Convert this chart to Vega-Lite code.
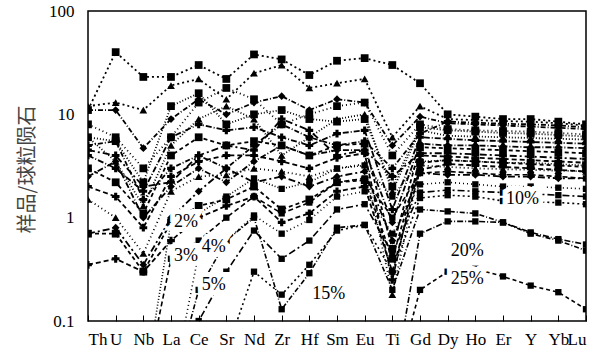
{
  "$schema": "https://vega.github.io/schema/vega-lite/v6.json",
  "width": 498,
  "height": 310,
  "autosize": {"type": "none"},
  "padding": {"left": 88, "top": 11, "right": 14, "bottom": 29},
  "config": {"view": {"stroke": "#000", "strokeWidth": 1.5}},
  "datasets": {
    "curves": [
      {"s": "S1", "k": "s", "Th": 11, "U": 40, "Nb": 23, "La": 23, "Ce": 30, "Sr": 22, "Nd": 38, "Zr": 34, "Hf": 24, "Sm": 33, "Eu": 35, "Ti": 30, "Gd": 20, "Dy": 10, "Ho": 9.5, "Er": 9, "Y": 9, "Yb": 8.5, "Lu": 8},
      {"s": "S2", "k": "s", "Th": 12, "U": 13, "Nb": 11, "La": 19, "Ce": 22, "Sr": 14, "Nd": 25, "Zr": 30, "Hf": 18, "Sm": 20, "Eu": 22, "Ti": 6, "Gd": 12, "Dy": 9, "Ho": 8.8, "Er": 8.6, "Y": 8.5, "Yb": 8.2, "Lu": 7.8},
      {"s": "S3", "k": "s", "Th": 11, "U": 11, "Nb": 4.7, "La": 9, "Ce": 14, "Sr": 10, "Nd": 13, "Zr": 15, "Hf": 11, "Sm": 14, "Eu": 13, "Ti": 5, "Gd": 9.5, "Dy": 8.2, "Ho": 8, "Er": 7.8, "Y": 7.6, "Yb": 7.4, "Lu": 7.2},
      {"s": "S4", "k": "s", "Th": 6, "U": 5.5, "Nb": 2.2, "La": 12, "Ce": 16, "Sr": 8, "Nd": 10, "Zr": 11, "Hf": 9, "Sm": 8.5, "Eu": 9, "Ti": 2, "Gd": 7.5, "Dy": 7, "Ho": 6.8, "Er": 6.6, "Y": 6.5, "Yb": 6.3, "Lu": 6.1},
      {"s": "S5", "k": "s", "Th": 4, "U": 3, "Nb": 1.8, "La": 6, "Ce": 8, "Sr": 7, "Nd": 7.5, "Zr": 6, "Hf": 5, "Sm": 6.5, "Eu": 7, "Ti": 1.2, "Gd": 6, "Dy": 5.8, "Ho": 5.6, "Er": 5.5, "Y": 5.4, "Yb": 5.3, "Lu": 5.2},
      {"s": "S6", "k": "s", "Th": 3, "U": 2.2, "Nb": 1.1, "La": 4, "Ce": 6, "Sr": 5, "Nd": 5.5, "Zr": 5, "Hf": 4, "Sm": 5, "Eu": 5.2, "Ti": 0.5, "Gd": 4.8, "Dy": 4.7, "Ho": 4.6, "Er": 4.5, "Y": 4.4, "Yb": 4.3, "Lu": 4.2},
      {"s": "S7", "k": "s", "Th": 2, "U": 1.6, "Nb": 0.8, "La": 2.5, "Ce": 3.5, "Sr": 4, "Nd": 4, "Zr": 3.5, "Hf": 3, "Sm": 3.8, "Eu": 4.2, "Ti": 0.25, "Gd": 4, "Dy": 3.9, "Ho": 3.8, "Er": 3.7, "Y": 3.6, "Yb": 3.5, "Lu": 3.4},
      {"s": "S8", "k": "s", "Th": 1.5, "U": 1, "Nb": 0.45, "La": 1.8, "Ce": 2.5, "Sr": 2.6, "Nd": 3, "Zr": 2.8, "Hf": 2.5, "Sm": 3, "Eu": 3.3, "Ti": 0.18, "Gd": 3.2, "Dy": 3.1, "Ho": 3, "Er": 2.95, "Y": 2.9, "Yb": 2.85, "Lu": 2.8},
      {"s": "S9", "k": "s", "Th": 0.7, "U": 0.8, "Nb": 0.35, "La": 1, "Ce": 1.8, "Sr": 3, "Nd": 2.2, "Zr": 2.5, "Hf": 2, "Sm": 2.5, "Eu": 2.8, "Ti": 0.6, "Gd": 2.7, "Dy": 2.6, "Ho": 2.6, "Er": 2.5, "Y": 2.5, "Yb": 2.4, "Lu": 2.4},
      {"s": "S10", "k": "s", "Th": 5, "U": 5.5, "Nb": 1.5, "La": 3, "Ce": 4, "Sr": 3, "Nd": 5, "Zr": 8, "Hf": 6, "Sm": 5, "Eu": 5.5, "Ti": 3, "Gd": 6.5, "Dy": 8.5, "Ho": 8.3, "Er": 8.1, "Y": 8, "Yb": 7.8, "Lu": 7.5},
      {"s": "S11", "k": "s", "Th": 6, "U": 3.5, "Nb": 1.3, "La": 5, "Ce": 9, "Sr": 12, "Nd": 9, "Zr": 4, "Hf": 6, "Sm": 9, "Eu": 10, "Ti": 1.8, "Gd": 7, "Dy": 6.2, "Ho": 6.1, "Er": 6, "Y": 5.9, "Yb": 5.8, "Lu": 5.7},
      {"s": "S12", "k": "s", "Th": 2.5, "U": 3.5, "Nb": 1.0, "La": 2, "Ce": 3, "Sr": 2.2, "Nd": 3.5, "Zr": 5, "Hf": 4, "Sm": 4.5, "Eu": 4.5, "Ti": 0.9, "Gd": 5.2, "Dy": 5, "Ho": 5, "Er": 4.9, "Y": 4.8, "Yb": 4.8, "Lu": 4.7},
      {"s": "S13", "k": "s", "Th": 0.7, "U": 0.7, "Nb": 0.3, "La": 0.9, "Ce": 1.3, "Sr": 1.5, "Nd": 2, "Zr": 1.2, "Hf": 1.5, "Sm": 2.2, "Eu": 2.3, "Ti": 0.4, "Gd": 3.4, "Dy": 3.6, "Ho": 3.5, "Er": 3.4, "Y": 3.3, "Yb": 3.2, "Lu": 3.1},
      {"s": "S14", "k": "s", "Th": 0.35, "U": 0.4, "Nb": 0.3, "La": 0.6, "Ce": 1.0, "Sr": 1.3, "Nd": 1.6, "Zr": 0.9, "Hf": 1.1, "Sm": 1.8, "Eu": 2, "Ti": 0.3, "Gd": 2.9, "Dy": 3.3, "Ho": 3.2, "Er": 3.1, "Y": 3.0, "Yb": 2.9, "Lu": 2.8},
      {"s": "S15", "k": "s", "Th": 8, "U": 6, "Nb": 3, "La": 6, "Ce": 13, "Sr": 18, "Nd": 14, "Zr": 8, "Hf": 10, "Sm": 12, "Eu": 13, "Ti": 4, "Gd": 8, "Dy": 7.2, "Ho": 7, "Er": 6.9, "Y": 6.8, "Yb": 6.6, "Lu": 6.4},
      {"s": "S16", "k": "s", "Th": 4.5, "U": 4, "Nb": 2, "La": 2.2, "Ce": 4, "Sr": 5, "Nd": 4.5, "Zr": 9, "Hf": 7, "Sm": 4, "Eu": 4.5, "Ti": 2.5, "Gd": 4.2, "Dy": 4.2, "Ho": 4.1, "Er": 4, "Y": 3.9, "Yb": 3.8, "Lu": 3.7},
      {"s": "M2", "k": "m", "Th": 0.02, "U": 0.02, "Nb": 0.02, "La": 0.9, "Ce": 1.1, "Sr": 1.6, "Nd": 2.4, "Zr": 1.9, "Hf": 2.2, "Sm": 3.0, "Eu": 3.2, "Ti": 1.6, "Gd": 3.5, "Dy": 3.6, "Ho": 3.5, "Er": 3.4, "Y": 3.4, "Yb": 3.3, "Lu": 3.2},
      {"s": "M3", "k": "m", "Th": 0.02, "U": 0.02, "Nb": 0.02, "La": 0.4, "Ce": 0.6, "Sr": 1.0, "Nd": 1.6, "Zr": 1.1, "Hf": 1.4, "Sm": 2.2, "Eu": 2.4, "Ti": 1.0, "Gd": 2.7, "Dy": 2.8, "Ho": 2.7, "Er": 2.6, "Y": 2.6, "Yb": 2.5, "Lu": 2.4},
      {"s": "M4", "k": "m", "Th": 0.02, "U": 0.02, "Nb": 0.02, "La": 0.02, "Ce": 0.45, "Sr": 0.6, "Nd": 1.05, "Zr": 0.7, "Hf": 0.95, "Sm": 1.6, "Eu": 1.8, "Ti": 0.7, "Gd": 2.1, "Dy": 2.2, "Ho": 2.1, "Er": 2.0, "Y": 2.0, "Yb": 1.95, "Lu": 1.9},
      {"s": "M5", "k": "m", "Th": 0.02, "U": 0.02, "Nb": 0.02, "La": 0.02, "Ce": 0.1, "Sr": 0.3, "Nd": 0.75, "Zr": 0.4, "Hf": 0.6, "Sm": 1.2, "Eu": 1.35, "Ti": 0.45, "Gd": 1.75, "Dy": 1.85, "Ho": 1.8, "Er": 1.75, "Y": 1.7, "Yb": 1.65, "Lu": 1.6},
      {"s": "M10", "k": "m", "Th": 0.02, "U": 0.02, "Nb": 0.02, "La": 0.02, "Ce": 0.02, "Sr": 0.05, "Nd": 0.3, "Zr": 0.18, "Hf": 0.35, "Sm": 0.75, "Eu": 0.85, "Ti": 0.3, "Gd": 1.55, "Dy": 1.65, "Ho": 1.6, "Er": 1.45, "Y": 1.42, "Yb": 1.4, "Lu": 1.35},
      {"s": "M15", "k": "m", "Th": 0.02, "U": 0.02, "Nb": 0.02, "La": 0.02, "Ce": 0.2, "Sr": 0.6, "Nd": 1.0, "Zr": 0.13, "Hf": 0.29, "Sm": 0.8, "Eu": 0.85, "Ti": 0.2, "Gd": 1.2, "Dy": 1.15, "Ho": 1.1, "Er": 0.9, "Y": 0.7, "Yb": 0.6, "Lu": 0.48},
      {"s": "M20", "k": "m", "Th": 0.02, "U": 0.02, "Nb": 0.02, "La": 0.02, "Ce": 0.02, "Sr": 0.02, "Nd": 0.02, "Zr": 0.02, "Hf": 0.02, "Sm": 0.02, "Eu": 0.02, "Ti": 0.02, "Gd": 0.7, "Dy": 0.92, "Ho": 0.92, "Er": 0.9, "Y": 0.72, "Yb": 0.62, "Lu": 0.55},
      {"s": "M25", "k": "m", "Th": 0.02, "U": 0.02, "Nb": 0.02, "La": 0.02, "Ce": 0.02, "Sr": 0.02, "Nd": 0.02, "Zr": 0.02, "Hf": 0.02, "Sm": 0.02, "Eu": 0.02, "Ti": 0.02, "Gd": 0.2, "Dy": 0.3, "Ho": 0.32, "Er": 0.27, "Y": 0.22, "Yb": 0.19, "Lu": 0.13}
    ],
    "labels": [
      {"t": "2%", "el": "La", "v": 0.91},
      {"t": "3%", "el": "La", "v": 0.43},
      {"t": "4%", "el": "Ce", "v": 0.52},
      {"t": "5%", "el": "Ce", "v": 0.224},
      {"t": "15%", "el": "Hf", "v": 0.183},
      {"t": "10%", "el": "Er", "v": 1.53},
      {"t": "20%", "el": "Dy", "v": 0.478},
      {"t": "25%", "el": "Dy", "v": 0.256}
    ]
  },
  "encoding": {
    "x": {
      "field": "el", "type": "nominal",
      "scale": {"type": "point", "padding": 0, "domain": ["Th","U","Nb","La","Ce","Sr","Nd","Zr","Hf","Sm","Eu","Ti","Gd","Dy","Ho","Er","Y","Yb","Lu"]},
      "axis": {"title": null, "labelAngle": 0, "labelFont": "Liberation Serif", "labelFontWeight": "normal", "labelFontSize": 17, "labelColor": "#000", "labelFlush": true, "domain": false, "tickColor": "#000", "tickSize": -6, "labelPadding": 16, "grid": false}
    },
    "y": {
      "field": "v", "type": "quantitative",
      "scale": {"type": "log", "domain": [0.1, 100]},
      "axis": {"values": [0.1, 1, 10, 100], "labelExpr": "datum.value < 1 ? '0.1' : format(datum.value, 'd')", "labelFont": "Liberation Serif", "labelFontWeight": "normal", "labelFontSize": 17, "labelColor": "#000", "ticks": false, "domain": false, "grid": false, "labelPadding": 14, "title": "样品/球粒陨石", "titleFont": "Noto Sans CJK SC", "titleFontSize": 20, "titleFontWeight": "normal", "titleColor": "#444", "titleX": -61, "titleY": 158, "titleAlign": "center", "titleBaseline": "middle"}
    }
  },
  "layer": [
    {
      "data": {"name": "curves"},
      "transform": [{"filter": "datum.k == 'm'"}, {"fold": ["Th","U","Nb","La","Ce","Sr","Nd","Zr","Hf","Sm","Eu","Ti","Gd","Dy","Ho","Er","Y","Yb","Lu"], "as": ["el", "v"]}],
      "mark": {"type": "line", "color": "#000", "strokeWidth": 1.6, "clip": true},
      "encoding": {
        "detail": {"field": "s"},
        "strokeDash": {"field": "s", "type": "nominal", "legend": null, "scale": {"range": [[2,3],[5,2,1,2],[1,2],[6,2,1,2],[4,3],[5,3],[1,3],[7,3,2,3]]}}
      }
    },
    {
      "data": {"name": "curves"},
      "transform": [{"filter": "datum.k == 'm'"}, {"fold": ["Th","U","Nb","La","Ce","Sr","Nd","Zr","Hf","Sm","Eu","Ti","Gd","Dy","Ho","Er","Y","Yb","Lu"], "as": ["el", "v"]}],
      "mark": {"type": "point", "shape": "square", "filled": true, "color": "#000", "size": 40, "opacity": 1, "clip": true}
    },
    {
      "data": {"name": "curves"},
      "transform": [{"filter": "datum.k == 's'"}, {"fold": ["Th","U","Nb","La","Ce","Sr","Nd","Zr","Hf","Sm","Eu","Ti","Gd","Dy","Ho","Er","Y","Yb","Lu"], "as": ["el", "v"]}],
      "mark": {"type": "line", "color": "#000", "strokeWidth": 1.8, "clip": true},
      "encoding": {
        "detail": {"field": "s"},
        "strokeDash": {"field": "s", "type": "nominal", "legend": null, "scale": {"range": [[4,2],[6,2],[3,2],[8,2],[5,2,1,2],[4,1],[6,3],[2,2]]}}
      }
    },
    {
      "data": {"name": "curves"},
      "transform": [{"filter": "datum.k == 's'"}, {"fold": ["Th","U","Nb","La","Ce","Sr","Nd","Zr","Hf","Sm","Eu","Ti","Gd","Dy","Ho","Er","Y","Yb","Lu"], "as": ["el", "v"]}],
      "mark": {"type": "point", "filled": true, "color": "#000", "size": 60, "opacity": 1, "clip": true},
      "encoding": {
        "shape": {"field": "s", "type": "nominal", "legend": null, "scale": {"range": ["square", "cross", "triangle-up", "diamond", "square", "cross"]}}
      }
    },
    {
      "data": {"name": "labels"},
      "mark": {"type": "text", "align": "left", "baseline": "middle", "dx": 3, "font": "Liberation Serif", "fontSize": 18, "stroke": "#fff", "strokeWidth": 10, "strokeJoin": "miter", "fill": "#fff"},
      "encoding": {"text": {"field": "t"}}
    },
    {
      "data": {"name": "labels"},
      "mark": {"type": "text", "align": "left", "baseline": "middle", "dx": 3, "font": "Liberation Serif", "fontSize": 18, "fill": "#000"},
      "encoding": {"text": {"field": "t"}}
    }
  ]
}
